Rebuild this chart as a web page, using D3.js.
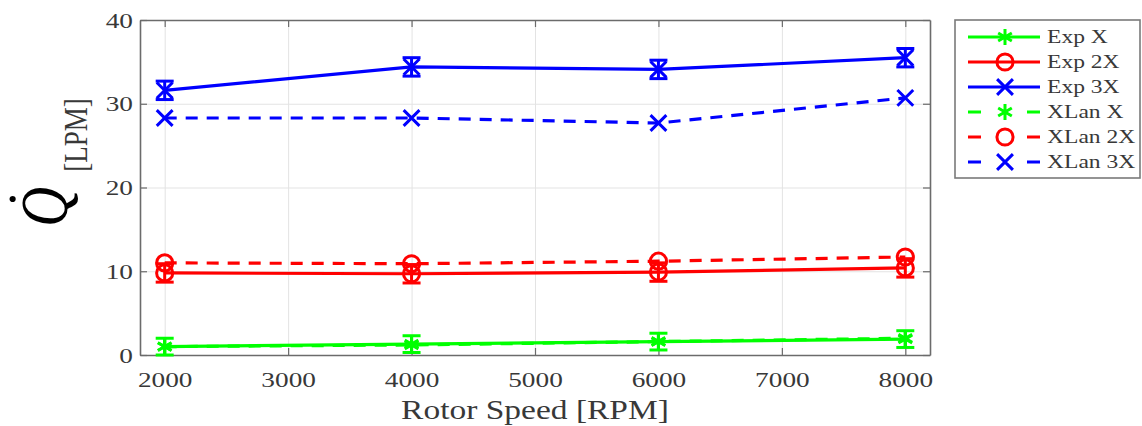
<!DOCTYPE html>
<html>
<head>
<meta charset="utf-8">
<script src="https://cdn.jsdelivr.net/npm/d3@7"></script>
<style>
  body { margin: 0; background: #fff; }
  svg text { font-family: "Liberation Serif", "Times New Roman", serif; }
  .grid line { stroke: #e3e3e3; stroke-width: 1; }
  .grid path { display: none; }
</style>
</head>
<body>
<div id="chart"></div>
<script>
// --------- DATA ---------
const rpm = [2000, 4000, 6000, 8000];

const expX  = [1.0, 1.3, 1.6, 1.9];
const exp2X = [9.8, 9.7, 9.9, 10.4];
const exp3X = [31.6, 34.4, 34.1, 35.5];

const errX  = [1.0, 1.0, 1.0, 1.0];
const err2X = [1.1, 1.1, 1.1, 1.1];
const err3X = [1.1, 1.1, 1.1, 1.1];

const xlanX  = [1.0, 1.2, 1.6, 2.0];
const xlan2X = [11.0, 10.9, 11.2, 11.7];
const xlan3X = [28.3, 28.3, 27.7, 30.7];

const xTicks = [2000, 3000, 4000, 5000, 6000, 7000, 8000];
const yTicks = [0, 10, 20, 30, 40];

const seriesNames = ["Exp X", "Exp 2X", "Exp 3X", "XLan X", "XLan 2X", "XLan 3X"];

// --------- CHART ---------
// the figure is a bit wider than tall, so text gets stretched horizontally
const stretch = 1.24;

let margin = {top: 20, right: 212, bottom: 71, left: 140},
    width = 1142 - margin.left - margin.right,
    height = 426 - margin.top - margin.bottom;

let svg = d3.select("#chart")
    .append("svg")
    .attr("width", 1142)
    .attr("height", 426);

let graph = svg.append("g")
    .attr("transform", "translate(" + margin.left + "," + margin.top + ")");

let xScale = d3.scaleLinear().domain([1800, 8200]).range([0, width]);
let yScale = d3.scaleLinear().domain([0, 40]).range([height, 0]);

// Gridlines
graph.append("g").attr("class", "grid")
    .call(d3.axisBottom(xScale).tickValues(xTicks).tickFormat("").tickSize(height))
    .call(g => g.selectAll("line").attr("y1", 0).attr("y2", height));
graph.append("g").attr("class", "grid")
    .call(d3.axisLeft(yScale).tickValues(yTicks).tickFormat("").tickSize(-width));

// Axes (MATLAB style: ticks inward, box on)
const axisColor = "#6b6b6b";
const labelColor = "#383838";

let xAxis = graph.append("g")
    .attr("transform", "translate(0," + height + ")")
    .call(d3.axisBottom(xScale).tickValues(xTicks).tickSizeInner(-7).tickSizeOuter(0).tickPadding(16).tickFormat(d3.format("d")));
let xAxisTop = graph.append("g")
    .call(d3.axisTop(xScale).tickValues(xTicks).tickSizeInner(-7).tickSizeOuter(0).tickFormat(""));
let yAxis = graph.append("g")
    .call(d3.axisLeft(yScale).tickValues(yTicks).tickSizeInner(-7).tickSizeOuter(0).tickPadding(7));
let yAxisRight = graph.append("g")
    .attr("transform", "translate(" + width + ",0)")
    .call(d3.axisRight(yScale).tickValues(yTicks).tickSizeInner(-7).tickSizeOuter(0).tickFormat(""));

[xAxis, xAxisTop, yAxis, yAxisRight].forEach(a => {
    a.select(".domain").attr("stroke", axisColor).attr("stroke-width", 1.6);
    a.selectAll(".tick line").attr("stroke", axisColor).attr("stroke-width", 1.2);
    a.selectAll("text").attr("fill", labelColor).style("font-size", "22px")
        .style("font-family", "Liberation Serif, serif")
        .each(function() {
            let t = d3.select(this);
            let x = +t.attr("x") || 0, y = +t.attr("y") || 0;
            t.attr("x", 0).attr("y", 0)
             .attr("transform", "translate(" + x + "," + y + ") scale(" + stretch + ",1)");
        });
});

// Series lines
const green = "#00ff00", red = "#ff0000", blue = "#0000ff";

function pts(vals) { return rpm.map((r, i) => ({x: r, y: vals[i]})); }

let line = d3.line().x(d => xScale(d.x)).y(d => yScale(d.y));

const symAst = d3.symbol().type(d3.symbolAsterisk).size(175);
const symCirc = d3.symbol().type(d3.symbolCircle).size(205);
const symTimes = d3.symbol().type(d3.symbolTimes).size(165);

function drawSeries(vals, color, sym, dashed, err) {
    let data = pts(vals);
    graph.append("path")
        .attr("fill", "none")
        .attr("stroke", color)
        .attr("stroke-width", 3.2)
        .attr("stroke-dasharray", dashed ? "12,9" : null)
        .attr("d", line(data));

    if (err) {
        let eb = graph.append("g").attr("stroke", color).attr("stroke-width", 3).attr("fill", "none");
        data.forEach((d, i) => {
            let cx = xScale(d.x), top = yScale(d.y + err[i]), bot = yScale(d.y - err[i]);
            eb.append("line").attr("x1", cx).attr("x2", cx).attr("y1", top).attr("y2", bot);
            eb.append("line").attr("x1", cx - 9).attr("x2", cx + 9).attr("y1", top).attr("y2", top);
            eb.append("line").attr("x1", cx - 9).attr("x2", cx + 9).attr("y1", bot).attr("y2", bot);
        });
    }

    graph.append("g").selectAll("path")
        .data(data).join("path")
        .attr("transform", d => "translate(" + xScale(d.x) + "," + yScale(d.y) + ")")
        .attr("d", sym)
        .attr("fill", "none")
        .attr("stroke", color)
        .attr("stroke-width", 3);
}

drawSeries(expX, green, symAst, false, errX);
drawSeries(exp2X, red, symCirc, false, err2X);
drawSeries(exp3X, blue, symTimes, false, err3X);
drawSeries(xlanX, green, symAst, true, null);
drawSeries(xlan2X, red, symCirc, true, null);
drawSeries(xlan3X, blue, symTimes, true, null);

// Axis titles
svg.append("text")
    .attr("transform", "translate(" + (margin.left + width / 2) + ",419) scale(" + stretch + ",1)")
    .attr("text-anchor", "middle")
    .attr("fill", labelColor)
    .style("font-size", "27px")
    .text("Rotor Speed [RPM]");

svg.append("text")
    .attr("transform", "translate(67,207) scale(" + stretch + ",1) rotate(-90)")
    .attr("text-anchor", "middle")
    .attr("fill", "#000")
    .style("font-size", "55px")
    .style("font-style", "italic")
    .text("Q");
// dot above the Q (rotated the other way so its box stays inside the page)
svg.append("text")
    .attr("transform", "translate(10,199) rotate(90)")
    .attr("text-anchor", "middle")
    .attr("fill", "#000")
    .style("font-size", "52px")
    .text(".");
svg.append("text")
    .attr("transform", "translate(87,135) scale(" + stretch + ",1) rotate(-90)")
    .attr("text-anchor", "middle")
    .attr("fill", labelColor)
    .style("font-size", "27px")
    .text("[LPM]");

// Legend
const legColors = [green, red, blue, green, red, blue];
const legSyms = [symAst, symCirc, symTimes, symAst, symCirc, symTimes];

let legend = svg.append("g").attr("transform", "translate(955,20)");
legend.append("rect")
    .attr("width", 185).attr("height", 158)
    .attr("fill", "#fff")
    .attr("stroke", "#7a7a7a")
    .attr("stroke-width", 1.6);

seriesNames.forEach((name, i) => {
    let y = 17 + 25 * i;
    let g = legend.append("g").attr("transform", "translate(0," + y + ")");
    g.append("line")
        .attr("x1", 13).attr("x2", 85).attr("y1", 0).attr("y2", 0)
        .attr("stroke", legColors[i]).attr("stroke-width", 3.2)
        .attr("stroke-dasharray", i >= 3 ? "13,46" : null);
    g.append("path")
        .attr("transform", "translate(50,0)")
        .attr("d", legSyms[i])
        .attr("fill", "none")
        .attr("stroke", legColors[i])
        .attr("stroke-width", 3);
    g.append("text")
        .attr("transform", "translate(92,6) scale(" + stretch + ",1)")
        .attr("fill", labelColor)
        .style("font-size", "19px")
        .text(name);
});
</script>
</body>
</html>
